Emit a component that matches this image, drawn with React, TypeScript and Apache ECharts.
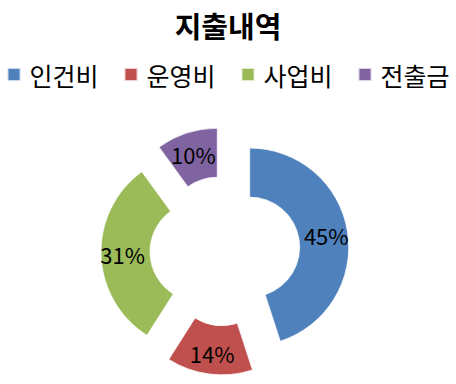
import React, { useEffect, useRef } from "react";
import * as echarts from "echarts";

const categories = ["인건비", "운영비", "사업비", "전출금"];
const percents = [45, 14, 31, 10];
const colors = ["#4F81BD", "#C0504D", "#9BBB59", "#8064A2"];
const titleText = "지출내역";

export default function App() {
  const ref = useRef<HTMLDivElement>(null);
  useEffect(() => {
    if (!ref.current) return;
    const chart = echarts.init(ref.current, null, { renderer: "svg" });
    const font = "'Noto Sans CJK KR', 'Noto Sans', sans-serif";
    chart.setOption({
      animation: false,
      backgroundColor: "#ffffff",
      color: colors,
      title: {
        text: titleText,
        left: "center",
        top: 5,
        textStyle: { fontSize: 29, fontWeight: "bold", color: "#000", fontFamily: font },
      },
      legend: {
        data: categories,
        left: "center",
        top: 57,
        icon: "rect",
        itemWidth: 13,
        itemHeight: 13,
        itemGap: 25,
        selectedMode: false,
        textStyle: { fontSize: 25, color: "#000", fontFamily: font, padding: [0, 0, 0, 4] },
      },
      series: [
        {
          type: "pie",
          center: [225, 251],
          radius: [50, 99],
          startAngle: 90,
          clockwise: true,
          selectedMode: "multiple",
          selectedOffset: 25,
          emphasis: { disabled: true },
          itemStyle: { borderColor: "rgba(255,255,255,0.7)", borderWidth: 1 },
          label: {
            show: true,
            position: "inside",
            formatter: "{c}%",
            fontSize: 22,
            color: "#000",
            fontFamily: font,
          },
          labelLine: { show: false },
          data: categories.map((name, i) => ({ name, value: percents[i], selected: true })),
        },
      ],
    });
    return () => chart.dispose();
  }, []);
  return <div ref={ref} style={{ position: "fixed", left: 0, top: 0, width: 456, height: 384 }} />;
}
